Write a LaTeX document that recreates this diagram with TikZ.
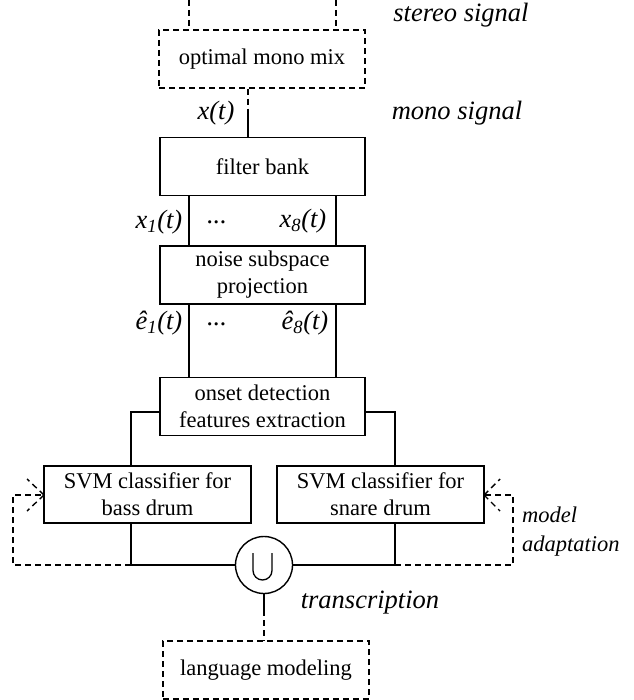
\documentclass[tikz,border=0pt]{standalone}
\usepackage{fontspec}
\setmainfont{Liberation Serif}
\begin{document}
\begin{tikzpicture}[x=1pt,y=-1pt,
  box/.style={draw,line width=1.4pt,minimum width=205pt,minimum height=58pt,inner sep=0pt,align=center,font=\fontsize{22.5}{27}\selectfont},
  dbox/.style={box,dash pattern=on 6pt off 4pt},
  wire/.style={line width=1.4pt},
  dwire/.style={line width=1.4pt,dash pattern=on 6pt off 4pt},
  lab/.style={font=\fontsize{26.5}{30}\selectfont\itshape,inner sep=0pt},
  ]
\useasboundingbox (0,0) rectangle (633,700);
% boxes
\node[dbox,minimum width=206pt] (mix) at (262,59) {optimal mono mix};
\node[box] (fb) at (262.5,166.5) {filter bank};
\node[box] (nsp) at (262.5,275) {noise subspace\\projection};
\node[box] (ons) at (262.5,406.5) {onset detection\\features extraction};
\node[box,minimum width=207pt,minimum height=57pt] (svmb) at (147.5,494.5) {SVM classifier for\\bass drum};
\node[box,minimum width=207pt,minimum height=57pt] (svms) at (380.5,494.5) {SVM classifier for\\snare drum};
\node[draw,circle,line width=1.4pt,minimum size=57pt,inner sep=0pt] (un) at (264,565) {};
\draw[line width=1.3pt] (un.center) ++(-11,-12) -- ++(0,17.5) arc[start angle=180,end angle=0,radius=9.5] -- ++(0,-17.5);
\node[dbox,minimum width=206pt] (lang) at (266,670) {language modeling};
% stereo input
\coordinate (c1) at (189,0);
\coordinate (c8) at (336,0);
\draw[dwire] (c1) -- (c1 |- mix.north);
\draw[dwire] (c8) -- (c8 |- mix.north);
% mono
\coordinate (xm) at (248,113);
\draw[dwire] (xm |- mix.south) -- (xm);
\draw[wire] (xm) -- (xm |- fb.north);
% channels
\draw[wire] (c1 |- fb.south) -- (c1 |- nsp.north);
\draw[wire] (c8 |- fb.south) -- (c8 |- nsp.north);
\draw[wire] (c1 |- nsp.south) -- (c1 |- ons.north);
\draw[wire] (c8 |- nsp.south) -- (c8 |- ons.north);
% branches
\coordinate (bl) at (131,412);
\coordinate (br) at (395,412);
\draw[wire] (bl -| ons.west) -- (bl) -- (bl |- svmb.north);
\draw[wire] (br -| ons.east) -- (br) -- (br |- svms.north);
\draw[wire] (bl |- svmb.south) -- (bl |- un) -- (un.west);
\draw[wire] (br |- svms.south) -- (br |- un) -- (un.east);
% feedback
\coordinate (fl) at (13,495);
\coordinate (fr) at (513,495);
\coordinate (al) at (44,495);
\coordinate (ar) at (484,495);
\draw[dwire] (bl |- un) -- (fl |- un) -- (fl) -- (al);
\draw[dwire] (br |- un) -- (fr |- un) -- (fr) -- (ar);
\draw[dwire] (al) -- ++(-17,-16);
\draw[dwire] (al) -- ++(-17,16);
\draw[dwire] (ar) -- ++(16,-16);
\draw[dwire] (ar) -- ++(16,16);
% output
\coordinate (lm) at (264,610);
\draw[wire] (un.south) -- (lm);
\draw[dwire] (lm) -- (lm |- lang.north);
% labels
\node[lab] (lst) at (461,15) {stereo signal};
\node[lab] (lmo) at (457,113) {mono signal};
\node[lab] (lx) at (216,113) {x(t)};
\node[lab] (lx1) at (159,222) {x\textsubscript{1}(t)};
\node[lab] (ld1) at (217,222) {...};
\node[lab] (lx8) at (303,221) {x\textsubscript{8}(t)};
\node[lab] (le1) at (159,323) {ê\textsubscript{1}(t)};
\node[lab] (ld2) at (217,324) {...};
\node[lab] (le8) at (305,323) {ê\textsubscript{8}(t)};
\node[lab,font=\fontsize{22.5}{29}\selectfont\itshape,align=left,anchor=west] (lad) at (522,532) {model\\adaptation};
\node[lab] (ltr) at (370,603) {transcription};
\end{tikzpicture}
\end{document}
